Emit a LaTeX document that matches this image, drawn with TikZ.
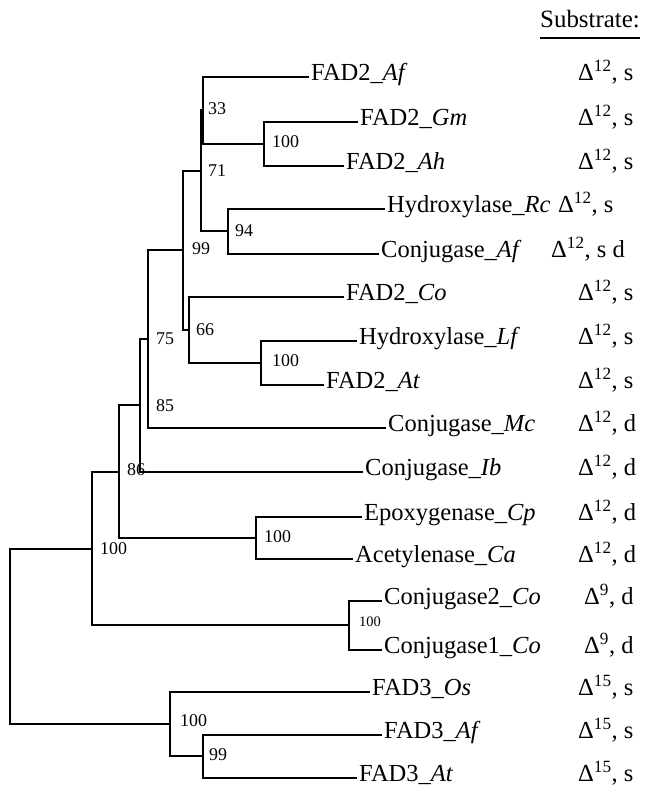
\documentclass[tikz,border=0pt]{standalone}
\usepackage{fontspec}
\setmainfont{Liberation Serif}
\begin{document}
\begin{tikzpicture}[x=1bp,y=-1bp,
  branch/.style={line width=1.8bp, line join=miter},
  leaf/.style={anchor=west, inner xsep=2bp, inner ysep=0pt,
    text height=0.76em, text depth=0pt, font=\fontsize{24.6}{30}\selectfont},
  subst/.style={anchor=west, inner sep=0pt,
    text height=0.76em, text depth=0pt, font=\fontsize{24.6}{30}\selectfont},
  boot/.style={anchor=west, inner sep=0pt,
    text height=0.66em, text depth=0pt, font=\fontsize{18}{21}\selectfont},
  bootsmall/.style={boot, font=\fontsize{14.5}{17}\selectfont}]
\useasboundingbox (0,0) rectangle (652,793);

% header
\node[anchor=base west, inner sep=0pt, font=\fontsize{25}{30}\selectfont]
  (hdr) at (540,28) {Substrate:};
\draw[line width=1.8bp] ([yshift=-10bp]hdr.base west) -- ([yshift=-10bp]hdr.base east);

% leaf labels
\node[leaf] (t1)  at (309,77)  {FAD2\_\textit{Af}};
\node[leaf] (t2)  at (358,122) {FAD2\_\textit{Gm}};
\node[leaf] (t3)  at (344,166) {FAD2\_\textit{Ah}};
\node[leaf] (t4)  at (385,209) {Hydroxylase\_\textit{Rc}};
\node[leaf] (t5)  at (379,254) {Conjugase\_\textit{Af}};
\node[leaf] (t6)  at (344,297) {FAD2\_\textit{Co}};
\node[leaf] (t7)  at (357,341) {Hydroxylase\_\textit{Lf}};
\node[leaf] (t8)  at (324,385) {FAD2\_\textit{At}};
\node[leaf] (t9)  at (386,428) {Conjugase\_\textit{Mc}};
\node[leaf] (t10) at (363,472) {Conjugase\_\textit{Ib}};
\node[leaf] (t11) at (362,517) {Epoxygenase\_\textit{Cp}};
\node[leaf] (t12) at (353,559) {Acetylenase\_\textit{Ca}};
\node[leaf] (t13) at (382,601) {Conjugase2\_\textit{Co}};
\node[leaf] (t14) at (382,650) {Conjugase1\_\textit{Co}};
\node[leaf] (t15) at (370,692) {FAD3\_\textit{Os}};
\node[leaf] (t16) at (382,735) {FAD3\_\textit{Af}};
\node[leaf] (t17) at (357,778) {FAD3\_\textit{At}};

% substrate column
\node[subst] (s1)  at (578,77)  {Δ\textsuperscript{12}, s};
\node[subst] (s2)  at (578,122) {Δ\textsuperscript{12}, s};
\node[subst] (s3)  at (578,166) {Δ\textsuperscript{12}, s};
\node[subst] (s4)  at (558,209) {Δ\textsuperscript{12}, s};
\node[subst] (s5)  at (551,254) {Δ\textsuperscript{12}, s d};
\node[subst] (s6)  at (578,297) {Δ\textsuperscript{12}, s};
\node[subst] (s7)  at (578,341) {Δ\textsuperscript{12}, s};
\node[subst] (s8)  at (578,385) {Δ\textsuperscript{12}, s};
\node[subst] (s9)  at (578,428) {Δ\textsuperscript{12}, d};
\node[subst] (s10) at (578,472) {Δ\textsuperscript{12}, d};
\node[subst] (s11) at (578,517) {Δ\textsuperscript{12}, d};
\node[subst] (s12) at (578,559) {Δ\textsuperscript{12}, d};
\node[subst] (s13) at (584,601) {Δ\textsuperscript{9}, d};
\node[subst] (s14) at (584,650) {Δ\textsuperscript{9}, d};
\node[subst] (s15) at (578,692) {Δ\textsuperscript{15}, s};
\node[subst] (s16) at (578,735) {Δ\textsuperscript{15}, s};
\node[subst] (s17) at (578,778) {Δ\textsuperscript{15}, s};

% internal nodes of the tree
\coordinate (n100a) at (264,144);
\coordinate (n33)   at (203,110);
\coordinate (n94)   at (228,231);
\coordinate (n71)   at (201,171);
\coordinate (n100b) at (261,363);
\coordinate (n66)   at (189,330);
\coordinate (n99)   at (183,250);
\coordinate (n75)   at (148,339);
\coordinate (n85)   at (140,405);
\coordinate (n100c) at (256,538);
\coordinate (n86)   at (119,472);
\coordinate (n100d) at (349,625);
\coordinate (n100e) at (92,549);
\coordinate (n99b)  at (203,756);
\coordinate (n100f) at (170,724);
\coordinate (root)  at (10,636);

% branches
\begin{scope}[branch]
  \draw (n100a) |- (t2.west);  \draw (n100a) |- (t3.west);
  \draw (n33) |- (t1.west);    \draw (n33) |- (n100a);
  \draw (n94) |- (t4.west);    \draw (n94) |- (t5.west);
  \draw (n71) |- (n33);        \draw (n71) |- (n94);
  \draw (n100b) |- (t7.west);  \draw (n100b) |- (t8.west);
  \draw (n66) |- (t6.west);    \draw (n66) |- (n100b);
  \draw (n99) |- (n71);        \draw (n99) |- (n66);
  \draw (n75) |- (n99);        \draw (n75) |- (t9.west);
  \draw (n85) |- (n75);        \draw (n85) |- (t10.west);
  \draw (n100c) |- (t11.west); \draw (n100c) |- (t12.west);
  \draw (n86) |- (n85);        \draw (n86) |- (n100c);
  \draw (n100d) |- (t13.west); \draw (n100d) |- (t14.west);
  \draw (n100e) |- (n86);      \draw (n100e) |- (n100d);
  \draw (n99b) |- (t16.west);  \draw (n99b) |- (t17.west);
  \draw (n100f) |- (t15.west); \draw (n100f) |- (n99b);
  \draw (root) |- (n100e);     \draw (root) |- (n100f);
\end{scope}

% bootstrap values
\node[boot] (b33)   at (208,111) {33};
\node[boot] (b100a) at (272,144) {100};
\node[boot] (b71)   at (208,173) {71};
\node[boot] (b94)   at (235,233) {94};
\node[boot] (b99)   at (192,251) {99};
\node[boot] (b66)   at (196,332) {66};
\node[boot] (b100b) at (272,363) {100};
\node[boot] (b75)   at (156,341) {75};
\node[boot] (b85)   at (156,408) {85};
\node[boot] (b86)   at (127,472) {86};
\node[boot] (b100c) at (264,539) {100};
\node[boot] (b100e) at (100,551) {100};
\node[bootsmall] (b100d) at (359,623) {100};
\node[boot] (b100f) at (180,723) {100};
\node[boot] (b99b)  at (209,757) {99};
\end{tikzpicture}
\end{document}
